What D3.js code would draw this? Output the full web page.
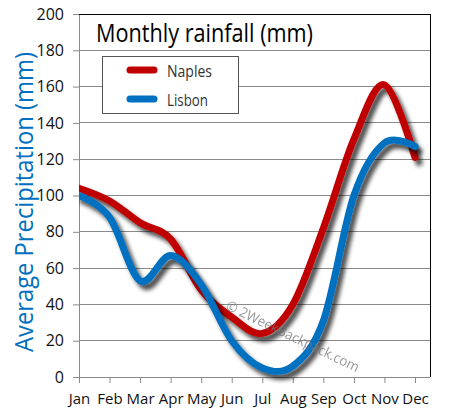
<!DOCTYPE html>
<html><head><meta charset="utf-8">
<script src="https://cdn.jsdelivr.net/npm/d3@7/dist/d3.min.js"></script>
<style>body{margin:0;background:#fff}text{font-family:"Open Sans","DejaVu Sans",sans-serif}</style>
</head><body>
<svg id="c" width="451" height="418"></svg>
<script>
const months = ["Jan","Feb","Mar","Apr","May","Jun","Jul","Aug","Sep","Oct","Nov","Dec"];
const naples = [104, 97, 85, 76, 48, 33, 24, 40, 82, 131, 161, 121];
const lisbon = [100, 88, 53, 67, 51, 20, 5, 6, 31, 100, 129, 127];
const yTicks = [0,20,40,60,80,100,120,140,160,180,200];
const seriesNames = ["Naples","Lisbon"];
const seriesColors = ["#C00000","#0070C0"];
const title = "Monthly rainfall (mm)";
const yLabel = "Average Precipitation (mm)";
const watermark = "\u00A9 2WeekBackpack.com";

const svg = d3.select("#c");
const L = 79, R = 430, T = 14, B = 377;
const x = d3.scalePoint().domain(months).range([79, 415]);
const y = d3.scaleLinear().domain([0, 200]).range([B, T]);

const defs = svg.append("defs");
const f = defs.append("filter").attr("id","sh").attr("x","-10%").attr("y","-10%").attr("width","130%").attr("height","130%");
f.append("feDropShadow").attr("dx",4).attr("dy",5).attr("stdDeviation",2.2)
  .attr("flood-color","#000").attr("flood-opacity",0.7);
defs.append("clipPath").attr("id","clip").append("rect")
  .attr("x",L).attr("y",T).attr("width",R-L+20).attr("height",B-T+10);

// grid
svg.append("g").selectAll("line").data(yTicks.filter(d=>d>0 && d<200)).join("line")
  .attr("x1",L).attr("x2",R).attr("y1",d=>y(d)).attr("y2",d=>y(d))
  .attr("stroke","#8a8a8a").attr("stroke-width",1).attr("shape-rendering","crispEdges");

// y axis
const ya = svg.append("g").attr("transform",`translate(${L},0)`)
  .call(d3.axisLeft(y).tickValues(yTicks).tickSize(6).tickPadding(9));
ya.select(".domain").attr("stroke","#8a8a8a");
ya.selectAll(".tick line").attr("stroke","#8a8a8a");
ya.selectAll("text").attr("font-size",16).attr("fill","#111")
  .style("font-family",'"Open Sans",sans-serif');

// x axis
const xa = svg.append("g").attr("transform",`translate(0,${B})`)
  .call(d3.axisBottom(x).tickSize(6).tickPadding(10));
xa.select(".domain").remove();
xa.selectAll(".tick line").attr("stroke","#8a8a8a");
xa.selectAll("text").attr("font-size",15).attr("fill","#111")
  .style("font-family",'"Open Sans",sans-serif');
svg.append("line").attr("x1",L).attr("x2",R).attr("y1",B).attr("y2",B)
  .attr("stroke","#8a8a8a").attr("shape-rendering","crispEdges");

// frame top/right
svg.append("path").attr("d",`M${L},${T}H${R}V${B}`).attr("fill","none")
  .attr("stroke","#000").attr("stroke-width",1).attr("shape-rendering","crispEdges");

// curves
const line = d3.line().x((d,i)=>x(months[i])).y(d=>y(d)).curve(d3.curveCardinal.tension(0));
const g = svg.append("g").attr("clip-path","url(#clip)");
[naples, lisbon].forEach((s,i)=>{
  g.append("path").datum(s).attr("d",line).attr("fill","none")
    .attr("stroke",seriesColors[i]).attr("stroke-width",7)
    .attr("stroke-linecap","round").attr("stroke-linejoin","round")
    .attr("filter","url(#sh)");
});

// title
svg.append("text").attr("x",96).attr("y",42).attr("font-size",25).attr("fill","#000")
  .attr("textLength",217).attr("lengthAdjust","spacingAndGlyphs").text(title);

// legend
const lg = svg.append("g");
lg.append("rect").attr("x",102.5).attr("y",56.5).attr("width",136).attr("height",57)
  .attr("fill","#fff").attr("stroke","#555");
const legW = [45, 41];
seriesNames.forEach((n,i)=>{
  const yy = 70 + i*29;
  lg.append("line").attr("x1",130).attr("x2",154).attr("y1",yy).attr("y2",yy)
    .attr("stroke",seriesColors[i]).attr("stroke-width",7).attr("stroke-linecap","round");
  lg.append("text").attr("x",167).attr("y",yy).attr("dominant-baseline","central")
    .attr("font-size",17).attr("fill","#333")
    .attr("textLength",legW[i]).attr("lengthAdjust","spacingAndGlyphs").text(n);
});

// y label
svg.append("text").attr("transform","translate(23,202) rotate(-90)")
  .attr("text-anchor","middle").attr("dominant-baseline","central")
  .attr("font-size",25).attr("fill","#0070C0")
  .attr("textLength",300).attr("lengthAdjust","spacingAndGlyphs").text(yLabel);

// watermark
svg.append("text").attr("transform","translate(225,309) rotate(25.7)")
  .attr("font-size",14).attr("fill","#777").attr("opacity",0.75)
  .attr("textLength",146).attr("lengthAdjust","spacingAndGlyphs").text(watermark);
</script>
</body></html>
